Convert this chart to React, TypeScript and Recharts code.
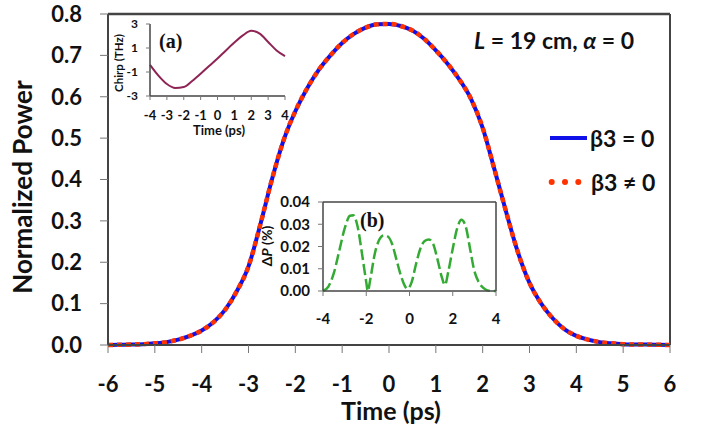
import { LineChart, Line, XAxis, YAxis, ReferenceLine, Legend, Label } from "recharts";

// main pulse: normalized power vs time
const timePs = [
  -6, -5.75, -5.5, -5.25, -5, -4.75, -4.5, -4.25, -4, -3.75, -3.5, -3.25, -3, -2.75, -2.5, -2.25, -2, -1.75,
  -1.5, -1.25, -1, -0.75, -0.5, -0.25, 0, 0.25, 0.5, 0.75, 1, 1.25, 1.5, 1.75, 2, 2.25, 2.5, 2.75, 3, 3.25,
  3.5, 3.75, 4, 4.25, 4.5, 4.75, 5, 5.25, 5.5, 5.75, 6,
];
const powerBeta0 = [
  0, 0.0005, 0.001, 0.002, 0.004, 0.007, 0.013, 0.022, 0.035, 0.055, 0.085, 0.13, 0.19, 0.29, 0.4, 0.495,
  0.565, 0.62, 0.665, 0.7, 0.73, 0.752, 0.767, 0.775, 0.776, 0.771, 0.76, 0.74, 0.712, 0.68, 0.642, 0.595,
  0.525, 0.425, 0.322, 0.225, 0.15, 0.1, 0.064, 0.038, 0.022, 0.013, 0.007, 0.004, 0.002, 0.001, 0.001, 0.0005, 0,
];
// difference is ~0.03 %, not visible at this scale
const powerBeta3 = [
  0, 0.0005, 0.001, 0.002, 0.004, 0.007, 0.013, 0.022, 0.035, 0.055, 0.085, 0.13, 0.19, 0.29, 0.4, 0.495,
  0.565, 0.62, 0.665, 0.7, 0.73, 0.752, 0.767, 0.775, 0.776, 0.771, 0.76, 0.74, 0.712, 0.68, 0.642, 0.595,
  0.525, 0.425, 0.322, 0.225, 0.15, 0.1, 0.064, 0.038, 0.022, 0.013, 0.007, 0.004, 0.002, 0.001, 0.001, 0.0005, 0,
];
const mainTicksX = [-6, -5, -4, -3, -2, -1, 0, 1, 2, 3, 4, 5, 6];
const mainTicksY = [0, 0.1, 0.2, 0.3, 0.4, 0.5, 0.6, 0.7, 0.8];

// inset (a): chirp
const chirpTime = [-4, -3.5, -3, -2.5, -2, -1.5, -1, -0.5, 0, 0.5, 1, 1.5, 2, 2.5, 3, 3.5, 4];
const chirpTHz = [-0.4, -1.3, -2.0, -2.33, -2.25, -1.75, -1.15, -0.5, 0.12, 0.8, 1.45, 2.05, 2.43, 2.2, 1.5, 0.8, 0.33];
const chirpTicksX = [-4, -3, -2, -1, 0, 1, 2, 3, 4];
const chirpTicksY = [-3, -1, 1, 3];

// inset (b): power difference
const deltaTime = [
  -4, -3.75, -3.5, -3.25, -3, -2.75, -2.6, -2.4, -2.2, -2, -1.93, -1.8, -1.6, -1.4, -1.2, -1, -0.8, -0.6,
  -0.4, -0.2, -0.1, 0.1, 0.3, 0.5, 0.7, 0.9, 1.1, 1.3, 1.5, 1.64, 1.8, 2, 2.2, 2.4, 2.6, 2.8, 3, 3.2, 3.4,
  3.6, 3.8, 4,
];
const deltaPct = [
  0, 0.002, 0.008, 0.018, 0.028, 0.0338, 0.034, 0.029, 0.017, 0.004, 0, 0.006, 0.017, 0.023, 0.025, 0.0245,
  0.021, 0.014, 0.007, 0.002, 0.001, 0.004, 0.012, 0.019, 0.0225, 0.0232, 0.021, 0.014, 0.006, 0.0027, 0.009,
  0.019, 0.028, 0.032, 0.029, 0.019, 0.009, 0.004, 0.0015, 0.0003, 0, 0,
];
const deltaTicksX = [-4, -2, 0, 2, 4];
const deltaTicksY = [0, 0.01, 0.02, 0.03, 0.04];

const FONT = "Lato, 'Open Sans', sans-serif";
const AXIS = "#444";

const mainData = timePs.map((t, i) => ({ t, b0: powerBeta0[i], b3: powerBeta3[i] }));
const chirpData = chirpTime.map((t, i) => ({ t, c: chirpTHz[i] }));
const deltaData = deltaTime.map((t, i) => ({ t, d: deltaPct[i] }));

function MainLegend() {
  return (
    <svg width={160} height={84} style={{ fontFamily: FONT, fontWeight: 700 }}>
      <line x1={5} x2={42} y1={20} y2={20} stroke="#1010e8" strokeWidth={4} />
      <text x={45} y={20} dominantBaseline="central" fontSize={23} fill="#111">
        β3 = 0
      </text>
      <line
        x1={6.7}
        x2={36}
        y1={64}
        y2={64}
        stroke="#ff3300"
        strokeWidth={6}
        strokeDasharray="0 13.3"
        strokeLinecap="round"
      />
      <text x={46} y={64} dominantBaseline="central" fontSize={23} fill="#111">
        β3 ≠ 0
      </text>
    </svg>
  );
}

export default function App() {
  return (
    <div
      style={{
        position: "absolute",
        left: 0,
        top: 0,
        width: 701,
        height: 439,
        background: "#fff",
        fontFamily: FONT,
      }}
    >
      <LineChart width={701} height={439} data={mainData} margin={{ top: 14, right: 31, bottom: 14, left: 0 }}>
        <XAxis
          dataKey="t"
          type="number"
          domain={[-6, 6]}
          ticks={mainTicksX}
          interval={0}
          height={80}
          tickSize={8}
          tickMargin={23}
          axisLine={{ stroke: AXIS, strokeWidth: 2 }}
          tickLine={{ stroke: "#777" }}
          tick={{ fontSize: 22, fontWeight: 700, fill: "#111", fontFamily: FONT }}
        >
          <Label
            content={() => (
              <text x={391} y={420} textAnchor="middle" fontSize={25} fontWeight={700} fill="#111" fontFamily={FONT}>
                Time (ps)
              </text>
            )}
          />
        </XAxis>
        <YAxis
          type="number"
          domain={[0, 0.8]}
          ticks={mainTicksY}
          interval={0}
          width={108}
          tickSize={8}
          tickMargin={18}
          tickFormatter={(v: number) => v.toFixed(1)}
          axisLine={{ stroke: AXIS, strokeWidth: 2 }}
          tickLine={{ stroke: "#777" }}
          tick={{ fontSize: 22, fontWeight: 700, fill: "#111", fontFamily: FONT }}
        >
          <Label
            content={() => (
              <text
                x={22}
                y={187}
                transform="rotate(-90 22 187)"
                textAnchor="middle"
                dominantBaseline="central"
                fontSize={26}
                fontWeight={700}
                fill="#111"
                fontFamily={FONT}
              >
                Normalized Power
              </text>
            )}
          />
        </YAxis>
        <ReferenceLine y={0.8} stroke={AXIS} strokeWidth={2.5} />
        <ReferenceLine x={6} stroke={AXIS} strokeWidth={2} />
        <Legend
          layout="horizontal"
          verticalAlign="middle"
          align="center"
          wrapperStyle={{ left: 545, top: 118, width: 160 }}
          content={() => <MainLegend />}
        />
        <Line
          type="monotone"
          dataKey="b0"
          name="β3 = 0"
          stroke="#1010e8"
          strokeWidth={4}
          dot={false}
          isAnimationActive={false}
        />
        <Line
          type="monotone"
          dataKey="b3"
          name="β3 ≠ 0"
          stroke="#ff3300"
          strokeWidth={4.5}
          strokeDasharray="5 4"
          dot={false}
          isAnimationActive={false}
        />
      </LineChart>

      <div
        style={{
          position: "absolute",
          left: 474,
          top: 26,
          fontSize: 23,
          fontWeight: 700,
          color: "#111",
          lineHeight: "28px",
          whiteSpace: "nowrap",
        }}
      >
        <i>L</i> = 19 cm, <i>α</i> = 0
      </div>

      {/* inset (a) */}
      <div style={{ position: "absolute", left: 100, top: 8 }}>
        <LineChart width={200} height={132} data={chirpData} margin={{ top: 16, right: 15, bottom: 4, left: 0 }}>
          <XAxis
            dataKey="t"
            type="number"
            domain={[-4, 4]}
            ticks={chirpTicksX}
            interval={0}
            height={40}
            tickSize={4}
            tickMargin={11}
            axisLine={{ stroke: AXIS, strokeWidth: 1.5 }}
            tickLine={{ stroke: "#777" }}
            tick={{ fontSize: 13, fontWeight: 700, fill: "#111", fontFamily: FONT }}
          >
            <Label
              content={() => (
                <text x={119} y={127} textAnchor="middle" fontSize={13} fontWeight={700} fill="#111" fontFamily={FONT}>
                  Time (ps)
                </text>
              )}
            />
          </XAxis>
          <YAxis
            type="number"
            domain={[-3, 3]}
            ticks={chirpTicksY}
            interval={0}
            width={50}
            tickSize={4}
            tickMargin={8}
            axisLine={{ stroke: AXIS, strokeWidth: 1.5 }}
            tickLine={{ stroke: "#777" }}
            tick={{ fontSize: 12, fontWeight: 700, fill: "#111", fontFamily: FONT }}
          >
            <Label
              content={() => (
                <text
                  x={18}
                  y={55}
                  transform="rotate(-90 18 55)"
                  textAnchor="middle"
                  dominantBaseline="central"
                  fontSize={11.5}
                  fontWeight={700}
                  fill="#111"
                  fontFamily={FONT}
                >
                  Chirp (THz)
                </text>
              )}
            />
          </YAxis>
          <Line
            type="monotone"
            dataKey="c"
            stroke="#8e2455"
            strokeWidth={2}
            dot={false}
            isAnimationActive={false}
          />
        </LineChart>
        <div
          style={{
            position: "absolute",
            left: 59,
            top: 22,
            fontFamily: "'Liberation Serif', serif",
            fontWeight: 700,
            fontSize: 20,
            color: "#111",
          }}
        >
          (a)
        </div>
      </div>

      {/* inset (b) */}
      <div style={{ position: "absolute", left: 255, top: 185 }}>
        <LineChart width={251} height={145} data={deltaData} margin={{ top: 17, right: 10, bottom: 4, left: 0 }}>
          <XAxis
            dataKey="t"
            type="number"
            domain={[-4, 4]}
            ticks={deltaTicksX}
            interval={0}
            height={35}
            tickSize={5}
            tickMargin={17}
            axisLine={{ stroke: AXIS, strokeWidth: 1.5 }}
            tickLine={{ stroke: "#777" }}
            tick={{ fontSize: 15, fontWeight: 700, fill: "#111", fontFamily: FONT }}
          />
          <YAxis
            type="number"
            domain={[0, 0.04]}
            ticks={deltaTicksY}
            interval={0}
            width={68}
            tickSize={5}
            tickMargin={8}
            tickFormatter={(v: number) => v.toFixed(2)}
            axisLine={{ stroke: AXIS, strokeWidth: 1.5 }}
            tickLine={{ stroke: "#777" }}
            tick={{ fontSize: 15, fontWeight: 700, fill: "#111", fontFamily: FONT }}
          >
            <Label
              content={() => (
                <text
                  x={11}
                  y={61}
                  transform="rotate(-90 11 61)"
                  textAnchor="middle"
                  dominantBaseline="central"
                  fontSize={14}
                  fontWeight={700}
                  fill="#111"
                  fontFamily={FONT}
                >
                  Δ<tspan fontStyle="italic">P</tspan> (%)
                </text>
              )}
            />
          </YAxis>
          <ReferenceLine y={0.04} stroke={AXIS} strokeWidth={1.5} />
          <ReferenceLine x={4} stroke={AXIS} strokeWidth={1.5} />
          <Line
            type="monotone"
            dataKey="d"
            stroke="#33aa33"
            strokeWidth={2.5}
            strokeDasharray="11 4"
            dot={false}
            isAnimationActive={false}
          />
        </LineChart>
        <div
          style={{
            position: "absolute",
            left: 105,
            top: 24,
            fontFamily: "'Liberation Serif', serif",
            fontWeight: 700,
            fontSize: 20,
            color: "#111",
          }}
        >
          (b)
        </div>
      </div>
    </div>
  );
}
